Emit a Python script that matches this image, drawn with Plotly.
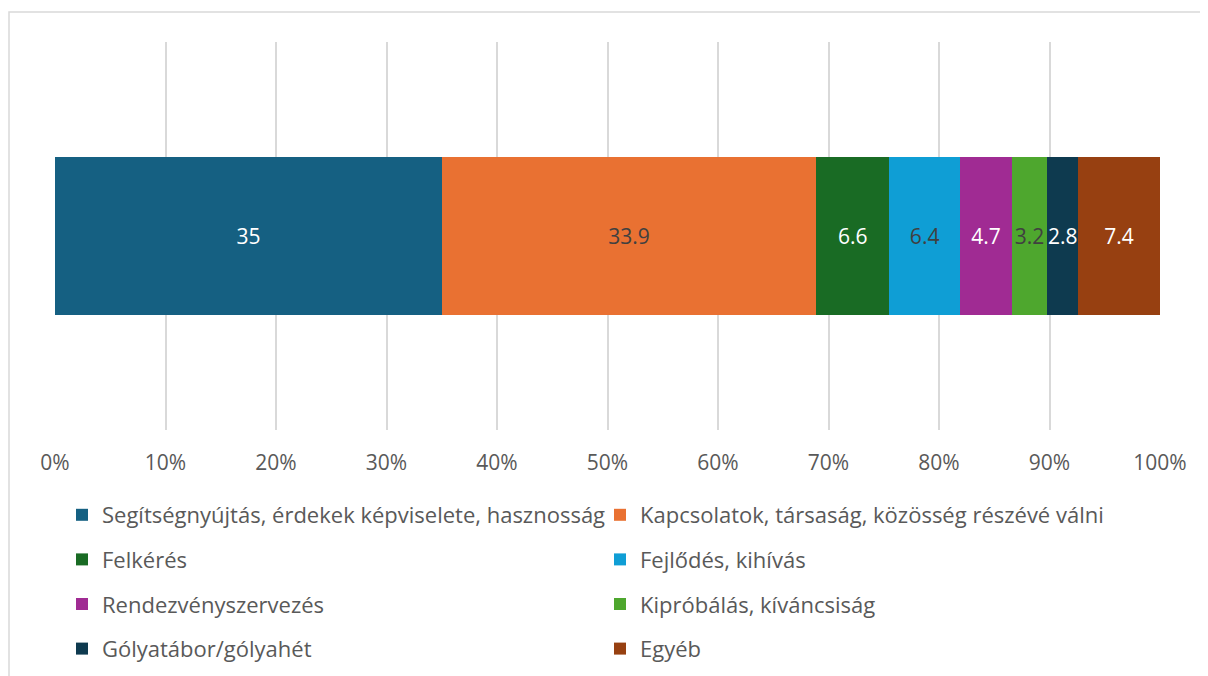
import plotly.graph_objects as go

categories = ["Motiváció"]
series_names = [
    "Segítségnyújtás, érdekek képviselete, hasznosság",
    "Kapcsolatok, társaság, közösség részévé válni",
    "Felkérés",
    "Fejlődés, kihívás",
    "Rendezvényszervezés",
    "Kipróbálás, kíváncsiság",
    "Gólyatábor/gólyahét",
    "Egyéb",
]
series_values = [35, 33.9, 6.6, 6.4, 4.7, 3.2, 2.8, 7.4]
colors = ["#156082", "#E97132", "#196B24", "#0F9ED5", "#A02B93", "#4EA72E", "#0E3A4F", "#974011"]
label_colors = ["white", "#404040", "white", "#404040", "white", "#404040", "white", "white"]
tick_vals = [0, 10, 20, 30, 40, 50, 60, 70, 80, 90, 100]
tick_text = ["0%", "10%", "20%", "30%", "40%", "50%", "60%", "70%", "80%", "90%", "100%"]

FONT = "Open Sans"
W, H = 1208, 676
OFF = 8  # page body margin
PL, PR, PT, PB = 55, 1160, 42, 430  # target plot-area pixels on screen
ML, MT = PL - OFF, PT - OFF
MR = W - ML - (PR - PL)
MB = H - MT - (PB - PT)
PW, PH = PR - PL, PB - PT


def px(xp):
    return (xp - PL) / PW


def py(yp):
    return (PB - yp) / PH


fig = go.Figure()
for i, (name, val) in enumerate(zip(series_names, series_values)):
    fig.add_trace(go.Bar(
        y=categories, x=[val], name=name, orientation="h",
        marker=dict(color=colors[i], line=dict(width=0)),
        text=[f"{val:g}"], textposition="inside", insidetextanchor="middle",
        textangle=0, constraintext="none",
        insidetextfont=dict(color=label_colors[i], size=21, family=FONT),
        legend="legend" if i % 2 == 0 else "legend2",
        legendgroup=f"g{i}",
        hoverinfo="name+x",
    ))

legend_common = dict(
    orientation="v", yanchor="top", xanchor="left",
    font=dict(size=22, color="#595959", family=FONT),
    bgcolor="rgba(0,0,0,0)", tracegroupgap=13, traceorder="grouped",
)
fig.update_layout(
    width=W, height=H,
    margin=dict(l=ML, r=MR, t=MT, b=MB),
    paper_bgcolor="white", plot_bgcolor="white",
    barmode="stack", bargap=0.593,
    font=dict(family=FONT, color="#595959"),
    xaxis=dict(range=[0, 100], tickvals=tick_vals, ticktext=tick_text,
               showgrid=True, gridcolor="#D9D9D9", gridwidth=1.5,
               zeroline=False, showline=False, ticks="",
               tickfont=dict(size=21, color="#595959", family=FONT),
               ticklabelstandoff=18, fixedrange=True),
    yaxis=dict(showticklabels=False, showgrid=False, zeroline=False,
               showline=False, ticks="", fixedrange=True),
    legend=dict(x=px(62), y=py(494), **legend_common),
    legend2=dict(x=px(600), y=py(494), **legend_common),
    showlegend=True,
)
# outer chart-area border
fig.add_shape(type="rect", xref="paper", yref="paper",
              x0=px(9), x1=px(1215), y0=py(690), y1=py(12),
              line=dict(color="#D9D9D9", width=1.5), fillcolor="rgba(0,0,0,0)",
              layer="below")
fig.write_html("out.html")
